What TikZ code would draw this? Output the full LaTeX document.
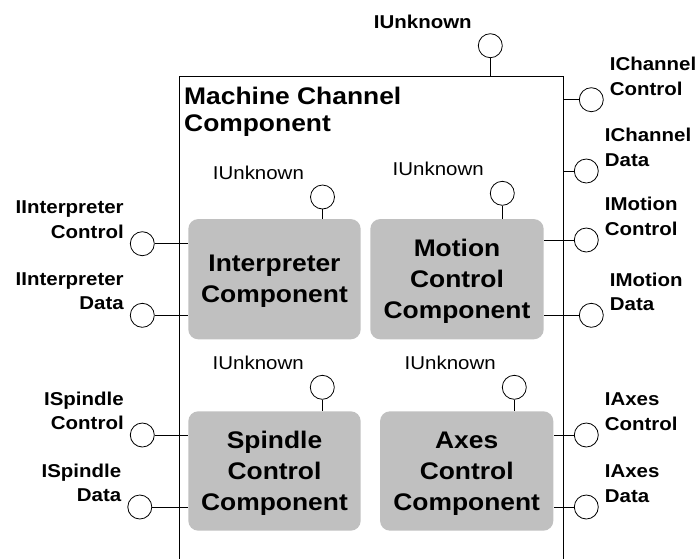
\documentclass[tikz,border=0pt]{standalone}
\usepackage{fontspec}
\setmainfont{Liberation Sans}[FakeStretch=1.1]
\usepackage{tikz}
\usetikzlibrary{positioning}
\definecolor{compgray}{HTML}{C0C0C0}

\begin{document}
\begin{tikzpicture}[x=1pt,y=-1pt,
        llabel/.style={align=right,inner sep=0pt,yshift=24pt,
            font=\fontsize{18.6}{24.5}\selectfont\bfseries},
        rlabel/.style={align=left,inner sep=0pt,yshift=23.5pt,
            font=\fontsize{18.6}{24.5}\selectfont\bfseries},
        unklabel/.style={inner sep=0pt,yshift=24pt,
            font=\fontsize{18.6}{24.5}\selectfont}]
    \useasboundingbox (0,0) rectangle (699,558);
    \clip (0,0) rectangle (699,558);

    % outer component, runs off the bottom
    \node[draw,line width=0.8pt,inner sep=0pt,minimum width=384pt,minimum height=560pt,
          anchor=north west] (mcc) at (178.7,75.7) {};
    \node[anchor=north west,align=left,inner sep=0pt,
          font=\fontsize{24}{26.6}\selectfont\bfseries] (mcctitle) at (184,87) {Machine Channel\\Component};

    \begin{scope}[every node/.style={fill=compgray,rounded corners=10pt,align=center,
                  inner sep=0pt,text depth=0pt,font=\fontsize{24}{31}\selectfont\bfseries}]
        \node[minimum width=172.4pt,minimum height=120.3pt] (interp) at (274.5,279.2) {Interpreter\\Component};
        \node[minimum width=173.4pt,minimum height=120.3pt] (motion) at (457,279.2) {Motion\\Control\\Component};
        \node[minimum width=172.4pt,minimum height=119.4pt] (spindle) at (274.5,471) {Spindle\\Control\\Component};
        \node[minimum width=173.3pt,minimum height=119.4pt] (axes) at (466.7,471) {Axes\\Control\\Component};
    \end{scope}

    \begin{scope}[every node/.style={circle,draw,line width=0.8pt,minimum size=24pt,inner sep=0pt}]
        \node (unk) at (490.3,45.7) {};
        \node (interpunk) at (322.5,197) {};
        \node (motionunk) at (502.3,193.3) {};
        \node (spindleunk) at (322.3,387.3) {};
        \node (axesunk) at (514.3,387.3) {};
        \node (iictl) at (142.3,243.7) {};
        \node (iidata) at (142.3,315.3) {};
        \node (isctl) at (142.3,435) {};
        \node (isdata) at (139.8,507) {};
        \node (ichctl) at (591.3,99.7) {};
        \node (ichdata) at (586.3,171) {};
        \node (imctl) at (586.3,240) {};
        \node (imdata) at (591.3,315.3) {};
        \node (iactl) at (586.3,435) {};
        \node (iadata) at (586.3,507) {};
    \end{scope}

    \node[unklabel,font=\fontsize{18.6}{24.5}\selectfont\bfseries,left=6pt of unk] {IUnknown};
    \node[unklabel,left=6pt of interpunk] {IUnknown};
    \node[unklabel,left=6pt of motionunk] {IUnknown};
    \node[unklabel,left=6pt of spindleunk] {IUnknown};
    \node[unklabel,left=6pt of axesunk] {IUnknown};

    \node[llabel,left=6pt of iictl] {IInterpreter\\Control};
    \node[llabel,left=6pt of iidata] {IInterpreter\\Data};
    \node[llabel,left=6pt of isctl] {ISpindle\\Control};
    \node[llabel,left=6pt of isdata] {ISpindle\\Data};
    \node[rlabel,right=6pt of ichctl] {IChannel\\Control};
    \node[rlabel,right=6pt of ichdata] {IChannel\\Data};
    \node[rlabel,right=6pt of imctl] {IMotion\\Control};
    \node[rlabel,right=6pt of imdata] {IMotion\\Data};
    \node[rlabel,right=6pt of iactl] {IAxes\\Control};
    \node[rlabel,right=6pt of iadata] {IAxes\\Data};

    \begin{scope}[every edge/.style={draw=black,line width=0.8pt}]
        \path [-] (unk) edge (unk |- mcc.north);
        \path [-] (interpunk) edge (interpunk |- interp.north);
        \path [-] (motionunk) edge (motionunk |- motion.north);
        \path [-] (spindleunk) edge (spindleunk |- spindle.north);
        \path [-] (axesunk) edge (axesunk |- axes.north);
        \path [-] (iictl) edge (iictl -| interp.west);
        \path [-] (iidata) edge (iidata -| interp.west);
        \path [-] (isctl) edge (isctl -| spindle.west);
        \path [-] (isdata) edge (isdata -| spindle.west);
        \path [-] (ichctl) edge (ichctl -| mcc.east);
        \path [-] (ichdata) edge (ichdata -| mcc.east);
        \path [-] (imctl) edge (imctl -| motion.east);
        \path [-] (imdata) edge (imdata -| motion.east);
        \path [-] (iactl) edge (iactl -| axes.east);
        \path [-] (iadata) edge (iadata -| axes.east);
    \end{scope}
\end{tikzpicture}
\end{document}
